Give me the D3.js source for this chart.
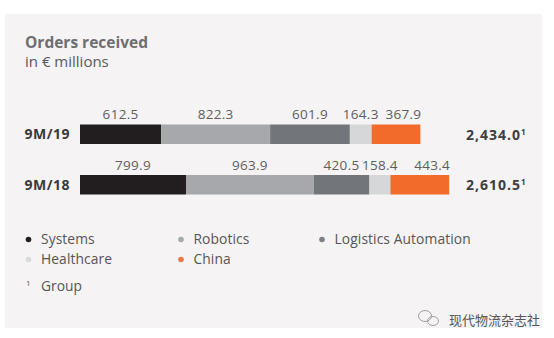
<!DOCTYPE html>
<html>
<head>
<meta charset="utf-8">
<script src="https://cdn.jsdelivr.net/npm/d3@7"></script>
<style>
  html, body { margin: 0; padding: 0; background: #ffffff; }
  svg { display: block; font-family: "Open Sans", "DejaVu Sans", sans-serif; }
</style>
</head>
<body>
<svg id="chart" width="554" height="338"></svg>
<script>
// ---- data ----
const categories = ["9M/19", "9M/18"];
const seriesNames = ["Systems", "Robotics", "Logistics Automation", "Healthcare", "China"];
const values9M19 = [612.5, 822.3, 601.9, 164.3, 367.9];
const values9M18 = [799.9, 963.9, 420.5, 158.4, 443.4];
const groupTotals = ["2,434.0", "2,610.5"];
const seriesColors = ["#221e1f", "#a6a8ab", "#72767b", "#d6d7d9", "#f26b2a"];
const legendDotColors = ["#221e1f", "#a6a8ab", "#7d8085", "#d9dadb", "#e87a4c"];

const valuesByCategory = [values9M19, values9M18];

const svg = d3.select("#chart");

// background panel
svg.append("rect")
  .attr("x", 5).attr("y", 14).attr("width", 537).attr("height", 314)
  .attr("fill", "#f5f3f3");

// title
svg.append("text")
  .attr("x", 25).attr("y", 48)
  .attr("font-size", 15.5).attr("font-weight", 700)
  .attr("fill", "#6d6e71")
  .text("Orders received");
svg.append("text")
  .attr("x", 25).attr("y", 67)
  .attr("font-size", 15).attr("font-weight", 400)
  .attr("fill", "#58595b")
  .text("in € millions");

// scales
const x = d3.scaleLinear().domain([0, 2800]).range([80, 451]);
const y = d3.scaleBand().domain(categories).range([124.5, 194.5])
  .paddingInner(0.614).paddingOuter(0);
const color = d3.scaleOrdinal().domain(seriesNames).range(seriesColors);

// stacked data
const stackRows = categories.map((c, ci) => {
  const row = { category: c };
  seriesNames.forEach((s, si) => { row[s] = valuesByCategory[ci][si]; });
  return row;
});
const stacked = d3.stack().keys(seriesNames)(stackRows);

const layers = svg.append("g").selectAll("g")
  .data(stacked).join("g")
  .attr("fill", d => color(d.key));

layers.selectAll("rect")
  .data(d => d.map(p => ({ p, key: d.key })))
  .join("rect")
  .attr("x", d => x(d.p[0]))
  .attr("y", d => y(d.p.data.category))
  .attr("width", d => x(d.p[1]) - x(d.p[0]))
  .attr("height", y.bandwidth());

// segment value labels
const lastKey = seriesNames[seriesNames.length - 1];
const fmt = d3.format(".1f");
stacked.forEach(layer => {
  layer.forEach(p => {
    const isLast = layer.key === lastKey;
    svg.append("text")
      .attr("x", isLast ? x(p[1]) + 1 : (x(p[0]) + x(p[1])) / 2)
      .attr("y", y(p.data.category) - 5.5)
      .attr("text-anchor", isLast ? "end" : "middle")
      .attr("font-size", 13.5)
      .attr("letter-spacing", 0.3)
      .attr("fill", "#5e5e5e")
      .text(fmt(p[1] - p[0]));
  });
});

// category labels
svg.append("g").selectAll("text")
  .data(categories).join("text")
  .attr("x", 70)
  .attr("y", d => y(d) + y.bandwidth() / 2 + 5)
  .attr("text-anchor", "end")
  .attr("font-size", 14).attr("font-weight", 700)
  .attr("letter-spacing", 0.5)
  .attr("fill", "#3a3a3c")
  .text(d => d);

// totals
const tot = svg.append("g").selectAll("text")
  .data(categories).join("text")
  .attr("x", 466)
  .attr("y", d => y(d) + y.bandwidth() / 2 + 5.5)
  .attr("font-size", 14).attr("font-weight", 700)
  .attr("letter-spacing", 1)
  .attr("fill", "#3e3e40");
tot.append("tspan").text((d, i) => groupTotals[i]);
tot.append("tspan").attr("dy", -5).attr("font-size", 8).text("1");

// legend
const legendCols = [28.5, 181, 322];
const legendRows = [244, 264];
const legend = svg.append("g").selectAll("g")
  .data(seriesNames).join("g")
  .attr("transform", (d, i) => `translate(${legendCols[i % 3]},${legendRows[Math.floor(i / 3)]})`);
legend.append("circle")
  .attr("cx", 0).attr("cy", -4.5).attr("r", 2.8)
  .attr("fill", (d, i) => legendDotColors[i]);
legend.append("text")
  .attr("x", 12.5).attr("y", 0)
  .attr("font-size", 13.8)
  .attr("letter-spacing", 0.1)
  .attr("fill", "#555555")
  .text(d => d);

// footnote
svg.append("text")
  .attr("x", 26).attr("y", 286)
  .attr("font-size", 8).attr("fill", "#555555")
  .text("1");
svg.append("text")
  .attr("x", 41).attr("y", 291)
  .attr("font-size", 13.8).attr("fill", "#555555")
  .text("Group");

// watermark
const wm = svg.append("g").attr("fill", "none").attr("stroke", "#a0a0a0").attr("stroke-width", 1);
wm.append("ellipse").attr("cx", 425).attr("cy", 316).attr("rx", 6.5).attr("ry", 5.5);
wm.append("ellipse").attr("cx", 433).attr("cy", 321).attr("rx", 5.5).attr("ry", 4.5);
svg.append("text")
  .attr("x", 449).attr("y", 325)
  .attr("font-family", "'Noto Sans CJK SC', sans-serif")
  .attr("font-size", 13)
  .attr("fill", "#555555")
  .text("现代物流杂志社");
</script>
</body>
</html>
